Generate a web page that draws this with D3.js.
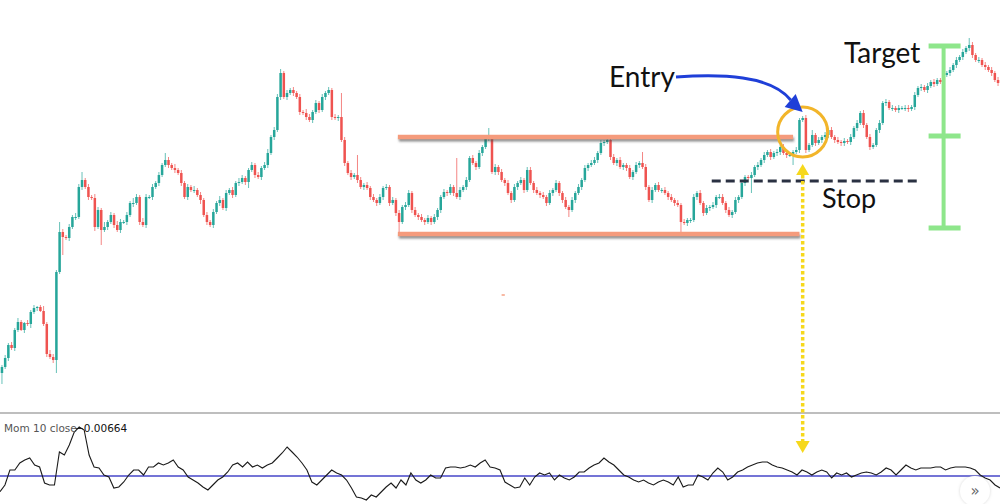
<!DOCTYPE html>
<html><head><meta charset="utf-8">
<script src="https://cdn.jsdelivr.net/npm/d3@7"></script>
<style>html,body{margin:0;padding:0;background:#fff;overflow:hidden}svg{display:block}</style>
</head><body><svg id="c" width="1000" height="504"></svg>
<script>
// ---- DATA (price in pips above base, momentum in 0.0001 units) ----
const closeA = [33,42,55,52,70,78,70,77,76,88,92,93,89,76,46,43,40];
const closeB = [128,168,163,162,173,183,183,213,220,213,203,202,173,190,170,173,178,185,175,170,
  178,178,185,197,197,203,178,175,203,203,213,217,225,235,240,235,232,230,227,217,
  203,213,210,210,205,200,185,178,175,188,197,200,192,207,210,205,217,218,222,218];
const closeC = [230,235,225,223,232,235,247,263,270,303,327,303,307,310,307,303,288,287,283,280,
  288,297,290,303,307,310,283,282,283,260,237,227,223,225,220,213,215,212,203,200,
  197,203,212,213,197,200,187,178,193,195,207,190,185,183,180,178,182,178,183,190,
  203,208,207,213,207,203,210,213,220,242,237,233,247,253,262,263,228,233];
const closeD = [228,220,217,207,200,213,217,220,210,230,217,210,207,205,203,197,207,210,217,207,
  200,193,190,200,207,213,220,232,235,237,240,247,257,258,260,243,237,240,233,235,
  232,223,228,235,237,233,213,200,210,215,210,210,207,203,200,197,195,178,177,180,
  180,203,207,197,187,192,193,195,203,203,197,190,185,188,200,203,217,223];
const closeE = [222,225,233,235,240,245,248,243,247,248,253,247,245,245,248,250,280,282,250,255,
  265,257,260,263,265,270,263,260,258,257,259,258,263,272,277,287,275,263,253,255,
  270,277,297,298,292,292,290,292,292,292,291,293,305,312,313,310,314,318,316,320,
  318,325,327,330,335,340,343,348,352,355,345,340,340,335,333,330,327,320,317];
const firstOpen = 27;
// upper / lower wick lengths (pips), base-36 digits, one per candle
const wickUpCodes = [
  "23232421323125243",
  "2a32324382 3243252324 3232532432 3232732423 2324232323 2423232432",
  "2323234233 4232323243 232323232o 3232k32323 2323232323 3232323232 23232z3232 32323923",
  "2323232323 3232323232 2323232323 3232323232 23232b3232 3232323232 2323232323 32323232",
  "2323232323 2323232232 5232323232 3232323232 2323232323 3232323232 2323232327 323232323"];
const wickDnCodes = [
  "b2323213242312323",
  "d2i2323232 3242f23232 3232423232 3232232323 2323242323 2323232323",
  "6232323232 3232323232 3232323232 3232323232 3232323b23 2323232323 3232323232 23232323",
  "3232323232 2323232323 3272323232 2323232323 3232323232 2323232a23 3232323232 23232323",
  "2f23232323 3232a23232 2323232323 3232323232 2323232323 3232323232 2323232323 323232323"];
const momA = [-94,-54,36,36,78,96,108,66,54,-42,-54,-54,144,126,186,264,294,276,126,54,
  48,6,-6,-72,-66,-36,6,36,36,6,54,54,78,66,78,96,54,36,-6,-24,
  -42,-66,-84,-54,-24,-6,24,66,78,54,84,54,66,48,66,78,108,138,174,144,
  114,78,36,-36,-54,-24,6,36,18,6,-24,-72,-126,-132,-144,-114,-126,-96,-66,-42,
  -72,-24,-54,18,-24,-42,-24,6,-12,-12,48,54,54,48,54,66,54,78,96,54,48,36];
const momB = [-36,-54,-72,-66,-12,-54,-6,18,6,18,-24,6,-12,-24,-6,24,24,48,66,78,
  108,84,66,36,6,-6,-24,-36,-24,-42,-54,-36,-24,-36,-54,-6,-66,-54,-54,6,
  -6,-24,18,48,24,-24,-6,24,36,54,66,78,84,84,66,54,48,36,24,6,
  36,24,6,24,36,24,-12,18,6,18,-6,6,18,24,18,6,24,48,36,6,
  36,66,48,36,48,48,48,54,54,36,48,54,54,54,48,36,6,-12,-24,-54,-72];
const momLabel = "Mom 10 close";
const momValue = "−0.00664";
// annotation levels (pips / momentum units) and bars
const resistance = 263, support = 166, stopLevel = 219;
const targetTop = 354, targetMid = 264, targetBottom = 172;
const rangeStartBar = 124, resistanceEndBar = 247, supportEndBar = 249, entryBar = 250;
const stopStartBar = 222, stopEndBar = 287, targetBar = 294;
const arrowDownTipMom = 138;
const labels = ["Entry", "Stop", "Target"];

// ---- BUILD ----
const close = [].concat(closeA, closeB, closeC, closeD, closeE);
const dec = arr => arr.join("").replace(/\s/g, "").split("").map(c => parseInt(c, 36));
const wUp = dec(wickUpCodes), wDn = dec(wickDnCodes);
const candles = close.map((c, i) => {
  const o = i ? close[i - 1] : firstOpen;
  return {i, o, c, h: Math.max(o, c) + (wUp[i] || 2), l: Math.min(o, c) - (wDn[i] || 2)};
});
const mom = momA.concat(momB);

const W = 1000, H = 504;
const svg = d3.select("#c");
const defs = svg.append("defs");
const f = defs.append("filter").attr("id", "blur").attr("filterUnits", "userSpaceOnUse")
  .attr("x", 0).attr("y", 0).attr("width", W).attr("height", H);
f.append("feGaussianBlur").attr("stdDeviation", 1.3);
const f2 = defs.append("filter").attr("id", "sh2").attr("x", "-50%").attr("y", "-50%").attr("width", "200%").attr("height", "200%");
f2.append("feDropShadow").attr("dx", 0).attr("dy", 0).attr("stdDeviation", 1.5).attr("flood-color", "#999").attr("flood-opacity", 0.4);

const x = d3.scaleBand().domain(d3.range(close.length)).range([0, W]).padding(0.22);
const bw = x.bandwidth();
const cx = i => x(i) + bw / 2;
const y = d3.scaleLinear().domain([0, 400]).range([400, 0]);

const up = "#26a69a", dn = "#ef5350";
const g = svg.append("g");
g.selectAll("line.w").data(candles).join("line")
  .attr("x1", d => cx(d.i)).attr("x2", d => cx(d.i))
  .attr("y1", d => y(d.h)).attr("y2", d => y(d.l))
  .attr("stroke", d => d.c >= d.o ? up : dn).attr("stroke-opacity", 0.7).attr("stroke-width", 1);
g.selectAll("rect.b").data(candles).join("rect")
  .attr("x", d => x(d.i)).attr("width", bw)
  .attr("y", d => y(Math.max(d.o, d.c)))
  .attr("height", d => Math.max(1, Math.abs(y(d.o) - y(d.c))))
  .attr("fill", d => d.c >= d.o ? up : dn);

// momentum pane
const paneTop = 413;
svg.append("line").attr("x1", 0).attr("x2", W).attr("y1", paneTop).attr("y2", paneTop)
  .attr("stroke", "#a8a8a8").attr("stroke-width", 1.5);
const mx = d3.scaleLinear().domain([0, mom.length - 1]).range([0, W]);
const my = d3.scaleLinear().domain([-168, 378]).range([504, paneTop]);
svg.append("line").attr("x1", 0).attr("x2", W).attr("y1", my(0)).attr("y2", my(0))
  .attr("stroke", "#4646c8").attr("stroke-width", 1.3);
svg.append("path").datum(mom)
  .attr("d", d3.line().x((d, i) => mx(i)).y(d => my(d)))
  .attr("fill", "none").attr("stroke", "#1a1a1a").attr("stroke-width", 1.1);
svg.append("text").attr("x", 4).attr("y", 432).attr("font-family", "Verdana, DejaVu Sans, sans-serif")
  .attr("font-size", 10.5).attr("fill", "#555").text(momLabel);
svg.append("text").attr("x", 75).attr("y", 432).attr("font-family", "Verdana, DejaVu Sans, sans-serif")
  .attr("font-size", 10.5).attr("fill", "#111").text(momValue);

// orange range lines with soft gray shadow
const orange = "#f59b7c";
[[resistance, resistanceEndBar], [support, supportEndBar]].forEach(([lv, eb]) => {
  svg.append("line").attr("x1", x(rangeStartBar) + 1).attr("x2", cx(eb) + 1)
    .attr("y1", y(lv) + 2.5).attr("y2", y(lv) + 2.5).attr("stroke", "#444").attr("stroke-opacity", 0.6)
    .attr("stroke-width", 4).attr("filter", "url(#blur)");
  svg.append("line").attr("x1", x(rangeStartBar)).attr("x2", cx(eb))
    .attr("y1", y(lv)).attr("y2", y(lv)).attr("stroke", orange).attr("stroke-width", 4.5);
});
svg.append("line").attr("x1", cx(156)).attr("x2", cx(157)).attr("y1", y(105)).attr("y2", y(105))
  .attr("stroke", orange).attr("stroke-width", 2).attr("stroke-opacity", 0.7);

// stop dashed line
svg.append("line").attr("x1", x(stopStartBar)).attr("x2", cx(stopEndBar))
  .attr("y1", y(stopLevel)).attr("y2", y(stopLevel))
  .attr("stroke", "#2a3142").attr("stroke-width", 3).attr("stroke-dasharray", "9,5");

// target I-beam
const green = "#8ee68b";
const tx = cx(targetBar);
svg.append("line").attr("x1", tx).attr("x2", tx).attr("y1", y(targetTop)).attr("y2", y(targetBottom))
  .attr("stroke", green).attr("stroke-width", 4);
[targetTop, targetMid, targetBottom].forEach(lv => {
  svg.append("line").attr("x1", tx - 15).attr("x2", tx + 17).attr("y1", y(lv)).attr("y2", y(lv))
    .attr("stroke", green).attr("stroke-width", 5);
});

// entry circle
const ex = cx(entryBar);
svg.append("circle").attr("cx", ex).attr("cy", y(268)).attr("r", 25)
  .attr("fill", "none").attr("stroke", "#f2b52a").attr("stroke-width", 3);

// yellow dotted vertical with arrows
const yellow = "#f6d81c";
const ya = y(235), yb = my(arrowDownTipMom);
svg.append("line").attr("x1", ex).attr("x2", ex).attr("y1", ya + 10).attr("y2", yb - 10)
  .attr("stroke", yellow).attr("stroke-width", 3.5).attr("stroke-dasharray", "3.5,2.5");
svg.append("path").attr("d", `M${ex},${ya - 1}L${ex - 6.5},${ya + 10}L${ex + 6.5},${ya + 10}Z`).attr("fill", yellow);
svg.append("path").attr("d", `M${ex},${yb}L${ex - 7},${yb - 12}L${ex + 7},${yb - 12}Z`).attr("fill", yellow);

// blue arrow
const blue = "#1f3fd8";
const ax0 = 676, ay0 = 77, ax1 = ex - 4, ay1 = y(290);
svg.append("path").attr("d", `M${ax0},${ay0}C${ax0 + 45},${ay0 - 3} ${ax0 + 95},${ay0 - 2} ${ax1 - 8},${ay1 - 10}`)
  .attr("fill", "none").attr("stroke", blue).attr("stroke-width", 3);
svg.append("path").attr("d", `M${ax1 + 4},${ay1 + 2}L${ax1 - 14},${ay1 - 3}L${ax1 - 3},${ay1 - 16}Z`).attr("fill", blue);

// labels
const lf = "Lato, 'Open Sans', sans-serif";
svg.append("text").attr("x", 609).attr("y", 87).attr("font-family", lf).attr("font-size", 28).attr("fill", "#111").text(labels[0]);
svg.append("text").attr("x", 822).attr("y", 208).attr("font-family", lf).attr("font-size", 27).attr("fill", "#111").text(labels[1]);
svg.append("text").attr("x", 844).attr("y", 63).attr("font-family", lf).attr("font-size", 28).attr("fill", "#111").text(labels[2]);

// scroll button
svg.append("circle").attr("cx", 975).attr("cy", 491).attr("r", 15).attr("fill", "#fff").attr("filter", "url(#sh2)");
svg.append("text").attr("x", 975).attr("y", 496).attr("text-anchor", "middle").attr("font-family", "DejaVu Sans, sans-serif")
  .attr("font-size", 15).attr("fill", "#666").text("»");
</script></body></html>
